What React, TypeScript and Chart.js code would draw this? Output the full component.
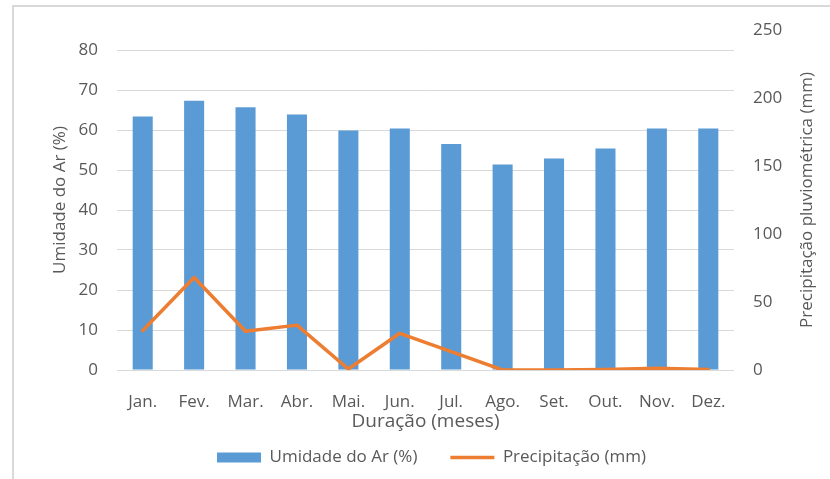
import React, { useEffect, useRef } from "react";
import { Chart, registerables } from "chart.js";

Chart.register(...registerables);

// ---- data ----
const months = ["Jan.", "Fev.", "Mar.", "Abr.", "Mai.", "Jun.", "Jul.", "Ago.", "Set.", "Out.", "Nov.", "Dez."];
const humidity = [63.4, 67.3, 65.7, 63.9, 59.9, 60.4, 56.5, 51.4, 52.9, 55.4, 60.4, 60.4];
const rainfall = [29, 68, 28.5, 33, 0.7, 27, 13.5, 0, 0, 0.3, 1.2, 0.3];

const humidityLabel = "Umidade do Ar (%)";
const rainfallLabel = "Precipitação (mm)";
const xTitle = "Duração (meses)";
const leftTitle = "Umidade do Ar (%)";
const rightTitle = "Precipitação pluviométrica (mm)";

const leftMin = 0;
const leftMax = 85;
const leftLastTick = 80;
const leftStep = 10;
const rightMin = 0;
const rightMax = 250;
const rightStep = 50;

// ---- style ----
const FONT = "'Open Sans', sans-serif";
const TEXT = "#595959";
const GRID = "#d9d9d9";
const BLUE = "#5b9bd5";
const ORANGE = "#ed7d31";

const rightTitlePlugin = {
  id: "rightTitle",
  afterDraw(chart: any) {
    const { ctx, chartArea } = chart;
    const s = chart.scales.y1;
    ctx.save();
    ctx.translate(s.right - 23, (chartArea.top + chartArea.bottom) / 2);
    ctx.rotate(-Math.PI / 2);
    ctx.font = `17px ${FONT}`;
    ctx.fillStyle = TEXT;
    ctx.textAlign = "center";
    ctx.textBaseline = "middle";
    ctx.fillText(rightTitle, 0, 0);
    ctx.restore();
  },
};

export default function App() {
  const ref = useRef<HTMLCanvasElement>(null);

  useEffect(() => {
    if (!ref.current) return;
    const chart = new Chart(ref.current, {
      type: "bar",
      data: {
        labels: months,
        datasets: [
          {
            type: "bar",
            label: humidityLabel,
            data: humidity,
            yAxisID: "y",
            backgroundColor: BLUE,
            borderWidth: 0,
            barPercentage: 0.39,
            categoryPercentage: 1,
            pointStyle: "rect",
            order: 1,
          } as any,
          {
            type: "line",
            label: rainfallLabel,
            data: rainfall,
            yAxisID: "y1",
            borderColor: ORANGE,
            backgroundColor: ORANGE,
            borderWidth: 3.5,
            borderJoinStyle: "round",
            borderCapStyle: "round",
            tension: 0,
            pointRadius: 0,
            pointHoverRadius: 0,
            pointStyle: "line",
            pointBorderColor: ORANGE,
            pointBorderWidth: 3.5,
            order: 0,
          } as any,
        ],
      },
      options: {
        responsive: false,
        animation: false,
        devicePixelRatio: 1,
        layout: { padding: { left: 33, right: 0, top: 30, bottom: 3 } },
        plugins: {
          tooltip: { enabled: false },
          legend: {
            position: "bottom",
            labels: {
              usePointStyle: true,
              pointStyleWidth: 44,
              boxWidth: 44,
              boxHeight: 10,
              padding: 33,
              color: TEXT,
              font: { family: FONT, size: 17 },
              sort: (a: any, b: any) => a.datasetIndex - b.datasetIndex,
            },
          },
        },
        scales: {
          x: {
            offset: true,
            grid: { display: false },
            border: { display: false },
            ticks: {
              color: TEXT,
              font: { family: FONT, size: 17 },
              padding: 14,
              autoSkip: false,
              maxRotation: 0,
            },
            title: {
              display: true,
              text: xTitle,
              color: TEXT,
              font: { family: FONT, size: 19 },
              padding: { top: 0, bottom: -17 },
            },
            afterFit: (s: any) => {
              s.height = 46;
            },
          },
          y: {
            position: "left",
            min: leftMin,
            max: leftMax,
            bounds: "data",
            grid: { color: GRID, lineWidth: 1, drawTicks: false },
            border: { display: false },
            ticks: {
              stepSize: leftStep,
              color: TEXT,
              font: { family: FONT, size: 17 },
              padding: 19,
            },
            afterBuildTicks: (s: any) => {
              s.ticks = s.ticks.filter((t: any) => t.value <= leftLastTick);
            },
            title: {
              display: true,
              text: leftTitle,
              color: TEXT,
              font: { family: FONT, size: 17 },
              padding: { top: 17, bottom: 0 },
            },
            afterFit: (s: any) => {
              s.width = 84;
            },
          },
          y1: {
            position: "right",
            min: rightMin,
            max: rightMax,
            grid: { display: false, drawTicks: false },
            border: { display: false },
            ticks: {
              stepSize: rightStep,
              color: TEXT,
              font: { family: FONT, size: 17 },
              padding: 19,
            },
            afterFit: (s: any) => {
              s.width = 96;
            },
          },
        },
      } as any,
      plugins: [rightTitlePlugin],
    });
    return () => chart.destroy();
  }, []);

  return (
    <div style={{ position: "absolute", left: 0, top: 0, width: 830, height: 479, background: "#fff" }}>
      <div
        style={{
          position: "absolute",
          left: 12,
          top: 5,
          width: 818,
          height: 474,
          boxSizing: "border-box",
          borderTop: "2px solid #d9d9d9",
          borderLeft: "2px solid #d9d9d9",
        }}
      />
      <canvas
        ref={ref}
        width={830}
        height={479}
        style={{ position: "absolute", left: 0, top: 0, width: 830, height: 479 }}
      />
    </div>
  );
}
